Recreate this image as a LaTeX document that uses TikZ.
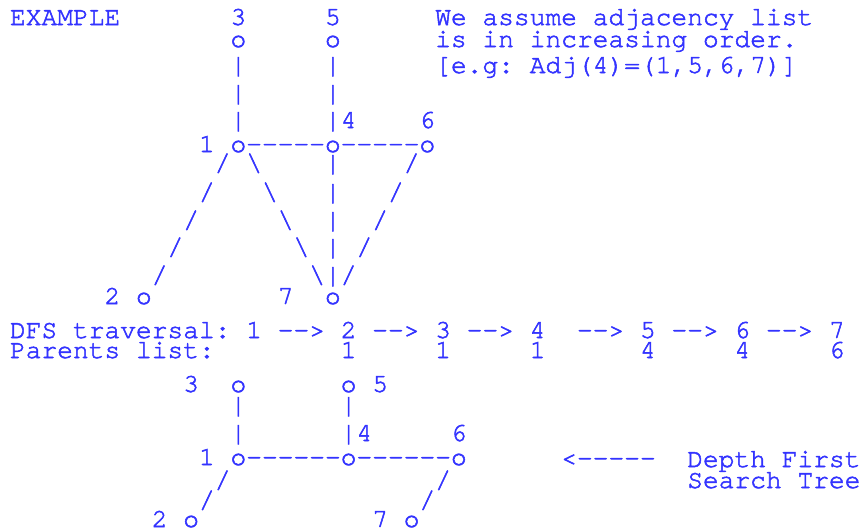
\documentclass[tikz,border=0pt]{standalone}
\usepackage{fontspec}
\newfontfamily\curfont{texgyrecursor-regular.otf}[FakeBold=2]
\definecolor{ink}{RGB}{51,51,255}
\newcommand\courfont{\curfont\fontsize{26.25pt}{30pt}\selectfont\frenchspacing}
\newcommand\tx[4]{\node[txt] (#1) at ({10pt+#2*15.75pt},{-#3pt}) {#4};}
\tikzset{txt/.style={anchor=base west, inner sep=0pt, outer sep=0pt, text=ink, font=\courfont}}
\begin{document}
\begin{tikzpicture}
\useasboundingbox (0,0) rectangle (865pt,-530pt);
% top block
\tx{ex}{0}{25}{EXAMPLE}
\tx{n3}{14}{25}{3}
\tx{n5}{20}{25}{5}
\tx{ta}{27}{25}{We assume adjacency list}
\tx{o3}{14}{47}{o}
\tx{o5}{20}{47}{o}
\tx{tb}{27}{47}{is in increasing order.}
\tx{va1}{14}{73}{|}
\tx{vb1}{20}{73}{|}
\tx{tc}{27}{73}{[e.g: Adj(4)=(1,5,6,7)]}
\tx{va2}{14}{101}{|}
\tx{vb2}{20}{101}{|}
\tx{va3}{14}{128}{|}
\tx{vb3}{20}{128}{|4}
\tx{n6}{26}{128}{6}
\tx{n1}{12}{152}{1}
\tx{row1}{14}{152}{o-{}-{}-{}-{}-o-{}-{}-{}-{}-o}
% slashes
\tx{s1a}{13}{171}{/}
\tx{s1b}{15}{171}{\textbackslash}
\tx{s1c}{20}{171}{|}
\tx{s1d}{25}{171}{/}
\tx{s2a}{12}{200}{/}
\tx{s2b}{16}{200}{\textbackslash}
\tx{s2c}{20}{200}{|}
\tx{s2d}{24}{200}{/}
\tx{s3a}{11}{228}{/}
\tx{s3b}{17}{228}{\textbackslash}
\tx{s3c}{20}{228}{|}
\tx{s3d}{23}{228}{/}
\tx{s4a}{10}{255}{/}
\tx{s4b}{18}{255}{\textbackslash}
\tx{s4c}{20}{255}{|}
\tx{s4d}{22}{255}{/}
\tx{s5a}{9}{283}{/}
\tx{s5b}{19}{283}{\textbackslash|/}
\tx{n2}{6}{304}{2}
\tx{o2}{8}{304}{o}
\tx{n7}{17}{304}{7}
\tx{o7}{20}{304}{o}
% traversal
\tx{dfsa}{0}{338}{DFS traversal: 1 -{}-> 2 -{}-> 3 -{}-> 4}
\tx{dfsb}{36}{338}{-{}-> 5 -{}-> 6 -{}-> 7}
\tx{par}{0}{358}{Parents list:}
\tx{p2}{21}{358}{1}
\tx{p3}{27}{358}{1}
\tx{p4}{33}{358}{1}
\tx{p5}{40}{358}{4}
\tx{p6}{46}{358}{4}
\tx{p7}{52}{358}{6}
% lower block
\tx{m3}{11}{392}{3}
\tx{mo3}{14}{392}{o}
\tx{mo5}{21}{392}{o 5}
\tx{mva1}{14}{413}{|}
\tx{mvb1}{21}{413}{|}
\tx{mva2}{14}{441}{|}
\tx{mvb2}{21}{441}{|4}
\tx{m6}{28}{441}{6}
\tx{m1}{12}{465}{1}
\tx{mrow}{14}{465}{o-{}-{}-{}-{}-{}-o-{}-{}-{}-{}-{}-o}
\tx{arr}{35}{466}{<-{}-{}-{}-{}-}
\tx{dfa}{43}{467}{Depth First}
\tx{ms1a}{13}{488}{/}
\tx{ms1b}{27}{488}{/}
\tx{dfb}{43}{488}{Search Tree}
\tx{ms2a}{12}{508}{/}
\tx{ms2b}{26}{508}{/}
\tx{m2}{9}{527}{2}
\tx{mo2}{11}{527}{o}
\tx{m7}{23}{527}{7}
\tx{mo7}{25}{527}{o}
\end{tikzpicture}
\end{document}
